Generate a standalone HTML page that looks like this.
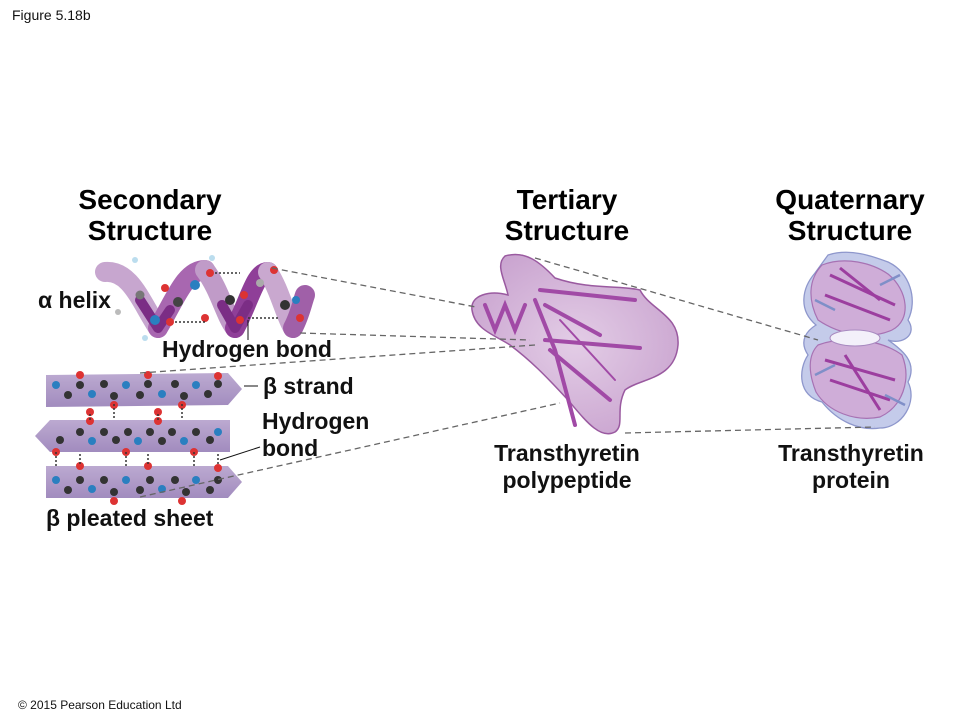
<!DOCTYPE html>
<html><head><meta charset="utf-8"><style>
html,body{margin:0;padding:0;background:#fff;}
svg{display:block;font-family:"Liberation Sans",sans-serif;}
.t{font-weight:bold;font-size:28px;fill:#000;text-anchor:middle;}
.l{font-weight:bold;font-size:23px;fill:#111;}
.d{stroke:#666;stroke-width:1.3;stroke-dasharray:6 4;fill:none;}
</style></head><body>
<svg width="960" height="720" viewBox="0 0 960 720" xmlns="http://www.w3.org/2000/svg">
<defs>
<linearGradient id="band" x1="0" y1="0" x2="0" y2="1">
<stop offset="0" stop-color="#b9a6cf"/><stop offset="1" stop-color="#9d86bb"/></linearGradient>
<radialGradient id="blob" cx="0.5" cy="0.5" r="0.6">
<stop offset="0" stop-color="#e3cde6"/><stop offset="1" stop-color="#c9a3cf"/></radialGradient>
</defs>
<text x="12" y="20" font-size="14" fill="#111">Figure 5.18b</text>
<text x="18" y="709" font-size="12" fill="#111">© 2015 Pearson Education Ltd</text>

<text class="t" x="150" y="209">Secondary</text>
<text class="t" x="150" y="240">Structure</text>
<text class="t" x="567" y="209">Tertiary</text>
<text class="t" x="567" y="240">Structure</text>
<text class="t" x="850" y="209">Quaternary</text>
<text class="t" x="850" y="240">Structure</text>

<!-- helix -->
<g fill="none" stroke-width="20" stroke-linecap="round" stroke-linejoin="round">
<path d="M105 272 C130 270 140 300 158 328" stroke="#c7a6cf"/>
<path d="M158 328 C175 300 185 270 205 270" stroke="#a867b0"/>
<path d="M205 270 C220 290 225 315 235 328" stroke="#c09bc8"/>
<path d="M235 328 C250 300 255 272 268 272" stroke="#8f3f98"/>
<path d="M268 272 C280 290 285 315 293 328" stroke="#c9a8cf"/>
<path d="M293 328 C300 315 303 300 305 295" stroke="#a060a8"/>
<path d="M140 300 L158 328 L170 310" stroke="#7b2d85" stroke-width="10"/>
<path d="M222 305 L235 328 L248 305" stroke="#7b2d85" stroke-width="10"/>
</g>
<g>
<circle cx="140" cy="295" r="4.5" fill="#777"/><circle cx="165" cy="288" r="4" fill="#d33"/>
<circle cx="155" cy="320" r="5" fill="#2a7fc0"/><circle cx="178" cy="302" r="5" fill="#444"/>
<circle cx="210" cy="273" r="4" fill="#d33"/><circle cx="195" cy="285" r="5" fill="#2a7fc0"/>
<circle cx="205" cy="318" r="4" fill="#d33"/><circle cx="230" cy="300" r="5" fill="#333"/>
<circle cx="244" cy="295" r="4" fill="#d33"/><circle cx="240" cy="320" r="4" fill="#d33"/>
<circle cx="260" cy="283" r="4" fill="#aaa"/><circle cx="274" cy="270" r="4" fill="#d33"/>
<circle cx="285" cy="305" r="5" fill="#333"/><circle cx="296" cy="300" r="4" fill="#2a7fc0"/>
<circle cx="300" cy="318" r="4" fill="#d33"/><circle cx="170" cy="322" r="4" fill="#d33"/>
<circle cx="118" cy="312" r="3" fill="#bbb"/><circle cx="212" cy="258" r="3" fill="#bde"/>
<circle cx="135" cy="260" r="3" fill="#bde"/><circle cx="145" cy="338" r="3" fill="#bde"/>
</g>
<path d="M175 322 H205 M215 273 H240 M248 318 H278" stroke="#333" stroke-width="1.5" stroke-dasharray="2 2"/>
<text class="l" x="38" y="308">α helix</text>
<path d="M248 320 V340" stroke="#111" stroke-width="1"/>
<text class="l" x="162" y="357">Hydrogen bond</text>

<!-- sheet -->
<g fill="url(#band)" opacity="0.95">
<path d="M46 375 L228 373 L242 389 L228 405 L46 407 Z"/>
<path d="M230 420 L50 420 L35 436 L50 452 L230 452 Z"/>
<path d="M46 466 L228 466 L242 482 L228 498 L46 498 Z"/>
</g>
<g>
<circle cx="56" cy="385" r="4" fill="#2a7fc0"/><circle cx="68" cy="395" r="4" fill="#333"/><circle cx="80" cy="385" r="4" fill="#333"/>
<circle cx="80" cy="375" r="4" fill="#d33"/><circle cx="92" cy="394" r="4" fill="#2a7fc0"/><circle cx="104" cy="384" r="4" fill="#333"/>
<circle cx="114" cy="396" r="4" fill="#333"/><circle cx="126" cy="385" r="4" fill="#2a7fc0"/><circle cx="140" cy="395" r="4" fill="#333"/>
<circle cx="148" cy="384" r="4" fill="#333"/><circle cx="148" cy="375" r="4" fill="#d33"/><circle cx="162" cy="394" r="4" fill="#2a7fc0"/>
<circle cx="175" cy="384" r="4" fill="#333"/><circle cx="184" cy="396" r="4" fill="#333"/><circle cx="196" cy="385" r="4" fill="#2a7fc0"/>
<circle cx="208" cy="394" r="4" fill="#333"/><circle cx="218" cy="384" r="4" fill="#333"/><circle cx="218" cy="376" r="4" fill="#d33"/>
<circle cx="90" cy="412" r="4" fill="#d33"/><circle cx="114" cy="405" r="4" fill="#d33"/><circle cx="158" cy="412" r="4" fill="#d33"/><circle cx="182" cy="405" r="4" fill="#d33"/>
<circle cx="90" cy="421" r="4" fill="#d33"/><circle cx="158" cy="421" r="4" fill="#d33"/>
<circle cx="60" cy="440" r="4" fill="#333"/><circle cx="80" cy="432" r="4" fill="#333"/><circle cx="92" cy="441" r="4" fill="#2a7fc0"/>
<circle cx="104" cy="432" r="4" fill="#333"/><circle cx="116" cy="440" r="4" fill="#333"/><circle cx="128" cy="432" r="4" fill="#333"/>
<circle cx="138" cy="441" r="4" fill="#2a7fc0"/><circle cx="150" cy="432" r="4" fill="#333"/><circle cx="162" cy="441" r="4" fill="#333"/>
<circle cx="172" cy="432" r="4" fill="#333"/><circle cx="184" cy="441" r="4" fill="#2a7fc0"/><circle cx="196" cy="432" r="4" fill="#333"/>
<circle cx="210" cy="440" r="4" fill="#333"/><circle cx="218" cy="432" r="4" fill="#2a7fc0"/>
<circle cx="56" cy="452" r="4" fill="#d33"/><circle cx="126" cy="452" r="4" fill="#d33"/><circle cx="194" cy="452" r="4" fill="#d33"/>
<circle cx="80" cy="466" r="4" fill="#d33"/><circle cx="148" cy="466" r="4" fill="#d33"/><circle cx="218" cy="468" r="4" fill="#d33"/>
<circle cx="56" cy="480" r="4" fill="#2a7fc0"/><circle cx="68" cy="490" r="4" fill="#333"/><circle cx="80" cy="480" r="4" fill="#333"/>
<circle cx="92" cy="489" r="4" fill="#2a7fc0"/><circle cx="104" cy="480" r="4" fill="#333"/><circle cx="114" cy="492" r="4" fill="#333"/>
<circle cx="126" cy="480" r="4" fill="#2a7fc0"/><circle cx="140" cy="490" r="4" fill="#333"/><circle cx="150" cy="480" r="4" fill="#333"/>
<circle cx="162" cy="489" r="4" fill="#2a7fc0"/><circle cx="175" cy="480" r="4" fill="#333"/><circle cx="186" cy="492" r="4" fill="#333"/>
<circle cx="196" cy="480" r="4" fill="#2a7fc0"/><circle cx="210" cy="490" r="4" fill="#333"/><circle cx="218" cy="480" r="4" fill="#333"/>
<circle cx="114" cy="501" r="4" fill="#d33"/><circle cx="182" cy="501" r="4" fill="#d33"/>
</g>
<path d="M90 414 V420 M114 404 V418 M158 414 V420 M182 404 V418 M56 452 V466 M80 454 V466 M126 452 V466 M148 454 V466 M194 452 V466 M218 454 V466" stroke="#333" stroke-width="1.5" stroke-dasharray="2 2"/>
<path d="M244 386 H258" stroke="#111"/>
<text class="l" x="263" y="394">β strand</text>
<text class="l" x="262" y="429">Hydrogen</text>
<text class="l" x="262" y="456">bond</text>
<path d="M260 447 L220 460" stroke="#111"/>
<text class="l" x="46" y="526">β pleated sheet</text>

<!-- tertiary -->
<path d="M505 256 C525 250 540 262 555 278 C590 290 620 285 640 290 C650 310 680 315 678 345 C675 380 640 378 625 390 C615 410 625 425 615 432 C600 440 585 420 568 400 C545 375 530 360 510 345 C495 335 475 330 472 310 C470 295 490 290 508 295 C505 280 495 265 505 256 Z" fill="url(#blob)" stroke="#9a5aa0" stroke-width="1.5"/>
<g fill="none" stroke="#a14aa6" stroke-width="4" stroke-linecap="round">
<path d="M540 290 L635 300"/><path d="M545 305 L600 335"/><path d="M545 340 L640 348"/>
<path d="M550 350 L610 400"/><path d="M535 300 L555 350 L575 425"/><path d="M485 305 L495 330 L505 305 L515 330 L525 305"/>
<path d="M560 320 L615 380" stroke-width="2"/>
</g>
<text class="l" x="567" y="461" text-anchor="middle">Transthyretin</text>
<text class="l" x="567" y="488" text-anchor="middle">polypeptide</text>

<!-- quaternary -->
<path d="M828 255 C850 248 872 256 888 262 C910 272 918 300 908 320 C918 335 902 345 888 340 C902 350 918 362 908 382 C918 402 902 428 880 428 C860 431 838 422 822 402 C798 396 798 370 808 355 C798 340 808 330 816 325 C798 310 802 288 815 273 Z" fill="#c4cbea" stroke="#8e97cc" stroke-width="1.3"/>
<path d="M822 265 C845 256 872 263 888 274 C908 290 912 320 892 330 C870 340 840 335 818 320 C808 300 808 280 822 265 Z M818 345 C845 335 882 340 902 355 C912 380 902 407 880 417 C855 422 828 412 816 392 C808 372 808 355 818 345 Z" fill="#d2a6d4" stroke="#a05ca6" stroke-width="1.2" opacity="0.8"/>
<ellipse cx="855" cy="338" rx="25" ry="8" fill="#f3f0fa" stroke="#a88ac0"/>
<g fill="none" stroke="#9c3e9f" stroke-width="3">
<path d="M830 275 L895 305"/><path d="M825 295 L890 320"/><path d="M840 268 L880 300"/>
<path d="M825 360 L895 380"/><path d="M830 380 L890 400"/><path d="M845 355 L880 410"/>
</g>
<g fill="none" stroke="#7f8fc8" stroke-width="2.5">
<path d="M815 300 L835 310"/><path d="M880 285 L900 275"/><path d="M815 375 L835 365"/><path d="M885 395 L905 405"/>
</g>
<text class="l" x="851" y="461" text-anchor="middle">Transthyretin</text>
<text class="l" x="851" y="488" text-anchor="middle">protein</text>

<!-- dashed connectors -->
<path class="d" d="M272 268 L476 307"/>
<path class="d" d="M300 333 L530 340"/>
<path class="d" d="M140 373 L535 345"/>
<path class="d" d="M140 497 L560 403"/>
<path class="d" d="M535 258 L818 340"/>
<path class="d" d="M625 433 L875 427"/>
</svg>
</body></html>
